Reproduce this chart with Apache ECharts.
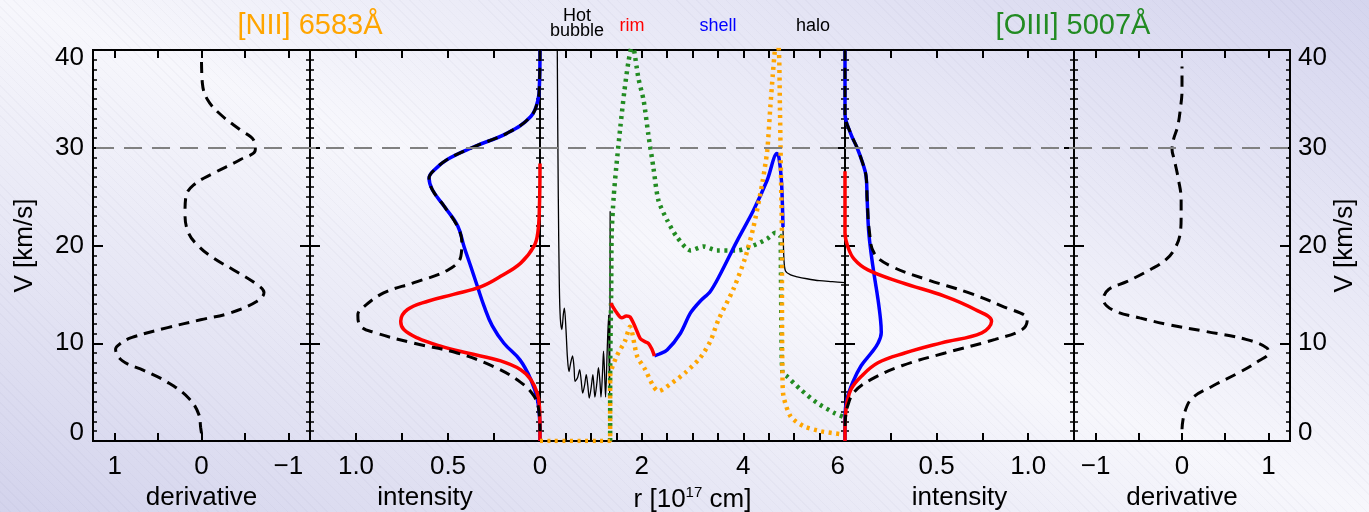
<!DOCTYPE html>
<html><head><meta charset="utf-8">
<script src="https://cdn.jsdelivr.net/npm/echarts@6/dist/echarts.min.js"></script>
<style>
html,body{margin:0;padding:0;}
#c{width:1369px;height:512px;
background:
 repeating-linear-gradient(45deg, rgba(110,110,150,0.045) 0px, rgba(110,110,150,0.045) 1px, transparent 1px, transparent 7px),
 linear-gradient(to top right, #d3d3ec 0%, #f7f7fc 50%, #d5d5ee 100%);}
</style></head><body><div id="c"></div>
<script>
// ---------- DATA ----------
// velocity axis (km/s)
const vTicks = [0, 10, 20, 30, 40];
const vRef = 30;
// tick marks / labels
const derivTicks = [-1, -0.5, 0, 0.5, 1];
const derivLabels = [-1, 0, 1];
const intensTicks = [0, 0.25, 0.5, 0.75, 1.0];
const intensLabels = [0.5, 1.0];
const rTicks = [0, 0.5, 1, 1.5, 2, 2.5, 3, 3.5, 4, 4.5, 5, 5.5, 6];
const rLabels = [0, 2, 4, 6];

// [NII] derivative
const niiDerivV   = [0.8, 1.4, 2.7, 4.4, 6.0, 7.2, 8.2, 9.4, 10.0, 10.6, 11.6, 12.4, 13.1, 14.3, 15.2, 16.0, 17.5, 18.7, 19.9, 21.3, 23.3, 25.0, 26.2, 27.4, 28.8, 29.8, 30.8, 31.8, 33.4, 34.9, 36.6, 39.0];
const niiDerivVal = [0, 0.01, 0.03, 0.15, 0.39, 0.66, 0.91, 0.99, 0.93, 0.80, 0.39, 0.01, -0.33, -0.64, -0.72, -0.64, -0.37, -0.14, 0.03, 0.15, 0.19, 0.18, 0.09, -0.14, -0.45, -0.62, -0.60, -0.45, -0.22, -0.07, -0.01, 0];

// [NII] intensity: rim (red), shell (blue), total (black dashed)
const niiRimV   = [28.4, 24.0, 21.3, 19.9, 18.2, 16.85, 15.8, 15.0, 14.3, 13.45, 12.26, 11.4, 10.55, 9.7, 9.0, 8.2, 7.3, 6.3, 4.9, 3.5, 1.0, 0];
const niiRimVal = [0, 0.003, 0.012, 0.033, 0.105, 0.214, 0.32, 0.47, 0.61, 0.72, 0.757, 0.74, 0.667, 0.54, 0.395, 0.214, 0.105, 0.05, 0.015, 0.003, 0, 0];
const niiShellV   = [40, 36.5, 34.9, 33.2, 31.5, 30.1, 28.8, 27.7, 26.9, 25.7, 24.0, 22.0, 19.9, 17.9, 15.8, 13.8, 11.8, 10.0, 8.3, 6.3, 4.3, 2.2, 0];
const niiShellVal = [0, 0.003, 0.011, 0.05, 0.178, 0.359, 0.504, 0.576, 0.603, 0.585, 0.52, 0.447, 0.413, 0.377, 0.34, 0.304, 0.26, 0.196, 0.109, 0.05, 0.015, 0.002, 0];
const niiTotalV   = [40, 36.5, 34.9, 33.2, 31.5, 30.1, 28.8, 27.7, 26.9, 25.7, 24.0, 22.0, 20.4, 18.9, 17.5, 16.2, 15.15, 13.6, 12.9, 11.75, 11.1, 10.0, 9.0, 7.6, 6.0, 4.6, 3.2, 1.0];
const niiTotalVal = [0, 0.003, 0.011, 0.05, 0.178, 0.359, 0.504, 0.576, 0.603, 0.585, 0.52, 0.45, 0.425, 0.43, 0.50, 0.685, 0.85, 0.966, 0.99, 0.975, 0.90, 0.685, 0.45, 0.25, 0.105, 0.033, 0.007, 0];

// [OIII] intensity
const oiiiRimV   = [27.6, 21.3, 19.9, 18.6, 17.5, 16.2, 14.8, 13.45, 12.26, 11.07, 10.04, 9.0, 8.0, 6.6, 5.3, 3.9, 2.55, 0.85, 0];
const oiiiRimVal = [0, 0, 0.015, 0.05, 0.125, 0.31, 0.546, 0.71, 0.80, 0.747, 0.527, 0.326, 0.18, 0.088, 0.033, 0.011, 0.002, 0, 0];
const oiiiShellV   = [40, 33.5, 31.5, 30.0, 28.4, 27.1, 24.7, 21.3, 17.9, 14.5, 12.4, 11.1, 10.0, 9.0, 7.7, 6.0, 4.3, 2.55, 0];
const oiiiShellVal = [0, 0, 0.03, 0.066, 0.097, 0.115, 0.121, 0.13, 0.152, 0.18, 0.194, 0.198, 0.18, 0.143, 0.088, 0.042, 0.011, 0, 0];
const oiiiTotalV   = [40, 33.5, 31.5, 30.0, 28.4, 27.1, 24.7, 21.3, 19.2, 17.9, 16.5, 15.2, 13.8, 12.4, 11.4, 10.4, 9.0, 7.7, 6.3, 5.0, 3.6, 2.2, 1.0];
const oiiiTotalVal = [0, 0, 0.03, 0.066, 0.097, 0.115, 0.121, 0.134, 0.16, 0.25, 0.45, 0.67, 0.857, 0.995, 0.967, 0.82, 0.546, 0.31, 0.143, 0.05, 0.015, 0.002, 0];

// [OIII] derivative
const oiiiDerivV   = [1.2, 2.9, 4.4, 5.6, 7.0, 8.2, 9.0, 9.5, 10.4, 11.2, 11.9, 12.6, 13.4, 14.5, 15.5, 16.3, 17.5, 18.6, 19.9, 21.3, 23.0, 24.7, 26.7, 28.8, 29.8, 30.8, 32.2, 33.9, 35.9, 38.3];
const oiiiDerivVal = [0, 0.03, 0.12, 0.35, 0.66, 0.89, 1.0, 0.985, 0.74, 0.28, -0.15, -0.49, -0.80, -0.91, -0.85, -0.64, -0.375, -0.18, -0.07, -0.02, -0.01, -0.01, -0.04, -0.09, -0.115, -0.10, -0.05, -0.02, 0, 0];

// radial profiles (r in 1e17 cm, V in km/s)
const bubbleR = [0.335, 0.34, 0.36, 0.38, 0.40, 0.43, 0.46, 0.48, 0.51, 0.54, 0.57, 0.60, 0.64, 0.67, 0.69, 0.74, 0.78, 0.81, 0.84, 0.88, 0.91, 0.94, 0.97, 1.01, 1.04, 1.06, 1.08, 1.12, 1.15, 1.18, 1.20, 1.23, 1.25, 1.27, 1.29, 1.32, 1.35, 1.36, 1.37, 1.38];
const bubbleV = [60, 40, 25, 16, 12.5, 11.4, 13.0, 13.6, 11.5, 8.5, 7.1, 7.9, 8.7, 7.5, 6.1, 6.5, 7.3, 6.2, 4.9, 5.8, 6.8, 5.7, 4.4, 5.6, 6.8, 5.7, 4.5, 6.0, 7.5, 6.0, 4.5, 7.0, 9.2, 7.0, 4.5, 9.0, 12.9, 8.0, 4.5, 23.5];
const rimR = [1.39, 1.50, 1.61, 1.70, 1.77, 1.87, 1.97, 2.05, 2.13, 2.20, 2.25];
const rimV = [14.1, 13.2, 12.6, 12.8, 12.7, 11.7, 10.5, 10.2, 10.0, 9.4, 8.7];
const shellR = [2.25, 2.35, 2.50, 2.76, 2.96, 3.15, 3.35, 3.53, 3.88, 4.20, 4.47, 4.66, 4.70, 4.75, 4.78];
const shellV = [8.7, 8.9, 9.3, 11.0, 13.1, 14.3, 15.3, 16.9, 20.5, 23.6, 26.7, 29.4, 29.0, 26.6, 21.9];
const haloR = [4.78, 4.80, 4.83, 4.93, 5.06, 5.25, 5.50, 5.75, 6.0];
const haloV = [21.9, 18.5, 17.4, 17.0, 16.8, 16.6, 16.4, 16.3, 16.2];
const oiiiEmR = [1.38, 1.38, 1.40, 1.41, 1.45, 1.50, 1.58, 1.66, 1.74, 1.82, 1.90, 1.94, 2.04, 2.13, 2.23, 2.33, 2.50, 2.69, 2.96, 3.22, 3.48, 3.88, 4.20, 4.47, 4.63, 4.73, 4.74, 4.75, 4.77, 4.86, 5.12, 5.45, 5.78, 6.0];
const oiiiEmV = [0, 6.6, 15, 21.2, 25, 28.0, 32.1, 35.8, 38.8, 40.6, 38.3, 37.0, 34.8, 31.4, 28.0, 24.6, 22.6, 20.9, 19.5, 19.9, 19.5, 19.5, 20.0, 20.7, 21.3, 20.9, 17.2, 11, 7.0, 6.6, 5.3, 3.9, 2.9, 2.4];
const niiEmR = [0, 1.38, 1.38, 1.51, 1.67, 1.77, 1.91, 2.07, 2.23, 2.33, 2.56, 2.86, 3.15, 3.35, 3.51, 3.81, 4.04, 4.20, 4.37, 4.47, 4.53, 4.58, 4.62, 4.66, 4.70, 4.72, 4.74, 4.76, 4.76, 4.77, 4.79, 4.93, 5.19, 5.52, 5.91, 6.0];
const niiEmV = [0, 0, 6.6, 8.7, 10.2, 11.7, 8.7, 7.3, 5.6, 5.1, 5.8, 7.0, 8.5, 10.2, 12.4, 15.6, 18.8, 21.9, 26.3, 29.7, 34.1, 37.5, 39.9, 41, 39.9, 34.1, 27.3, 20.5, 15.4, 6.6, 4.6, 2.5, 1.5, 1.0, 0.7, 0.6];

// ---------- CHART ----------
const FONT = 'Liberation Sans, Arial, Helvetica, sans-serif';
const pairs = (xs, ys) => xs.map((x, i) => [x, ys[i]]);
const minus = v => (v < 0 ? '\u2212' + Math.abs(v) : String(v));
const vFmt = v => (v === vTicks[0] ? '{lo|' + v + '}' : v === vTicks[vTicks.length - 1] ? '{hi|' + v + '}' : String(v));

const TOP = 50, BOTTOM = 71;
const panels = [
  {left: 93, width: 217, min: -1.25, max: 1.25, inverse: true, ticks: derivTicks, labels: derivLabels, fmt: minus, name: 'derivative'},
  {left: 310, width: 230, min: 0, max: 1.25, inverse: true, ticks: intensTicks, labels: intensLabels, fmt: v => v.toFixed(1), name: 'intensity'},
  {left: 540, width: 305, min: 0, max: 6, inverse: false, ticks: rTicks, labels: rLabels, fmt: v => String(v), name: 'r [10{sup|17} cm]'},
  {left: 845, width: 229, min: 0, max: 1.25, inverse: false, ticks: intensTicks, labels: intensLabels, fmt: v => v.toFixed(1), name: 'intensity'},
  {left: 1074, width: 216, min: -1.25, max: 1.25, inverse: false, ticks: derivTicks, labels: derivLabels, fmt: minus, name: 'derivative'}
];

const grid = [], xAxis = [], yAxis = [];
const tickStyle = {color: '#000', width: 2};
panels.forEach((p, i) => {
  grid.push({left: p.left, width: p.width, top: TOP, bottom: BOTTOM, show: true, borderColor: '#000', borderWidth: 2,
    backgroundColor: 'transparent', containLabel: false, outerBoundsMode: 'none'});
  const xBase = {type: 'value', gridIndex: i, min: p.min, max: p.max, inverse: p.inverse,
    axisLine: {show: false, onZero: false}, splitLine: {show: false},
    axisTick: {inside: true, length: 8, lineStyle: tickStyle, customValues: p.ticks}};
  xAxis.push(Object.assign({}, xBase, {position: 'bottom',
    axisLabel: {customValues: p.labels, formatter: p.fmt, fontSize: 26, color: '#000', margin: 13, fontFamily: FONT,
      alignMaxLabel: i === 2 ? 'right' : null},
    name: p.name, nameLocation: 'middle', nameGap: 42,
    nameTextStyle: {fontSize: 26, color: '#000', fontFamily: FONT,
      rich: {sup: {fontSize: 15, verticalAlign: 'top', padding: [0, 0, 14, 0], fontFamily: FONT, color: '#000'}}}}));
  xAxis.push(Object.assign({}, xBase, {position: 'top', axisLabel: {show: false}}));
  const yBase = {type: 'value', gridIndex: i, min: 0, max: 40, interval: 10,
    axisLine: {show: false, onZero: false}, splitLine: {show: false},
    axisTick: {inside: true, length: 10, lineStyle: tickStyle},
    minorTick: {show: true, splitNumber: 10, length: 4, lineStyle: {color: '#000', width: 1.5}}};
  const labelOn = {fontSize: 26, color: '#000', fontFamily: FONT, margin: 9, formatter: vFmt,
    rich: {lo: {fontSize: 26, fontFamily: FONT, color: '#000', padding: [0, 0, 16, 0]},
           hi: {fontSize: 26, fontFamily: FONT, color: '#000', padding: [16, 0, 0, 0]}}};
  yAxis.push(Object.assign({}, yBase, {position: 'left',
    axisLabel: i === 0 ? labelOn : {show: false},
    name: i === 0 ? 'V [km/s]' : '', nameLocation: 'middle', nameGap: 55, nameRotate: 90,
    nameTextStyle: {fontSize: 26, color: '#000', fontFamily: FONT}}));
  yAxis.push(Object.assign({}, yBase, {position: 'right',
    axisLabel: i === 4 ? Object.assign({}, labelOn, {margin: 8}) : {show: false},
    name: i === 4 ? 'V [km/s]' : '', nameLocation: 'middle', nameGap: 42, nameRotate: 90,
    nameTextStyle: {fontSize: 26, color: '#000', fontFamily: FONT}}));
});

function ln(gi, data, color, width, type, extra) {
  return Object.assign({type: 'line', xAxisIndex: gi * 2, yAxisIndex: gi * 2, data: data,
    showSymbol: false, symbol: 'none', smooth: 0.4, clip: true, silent: true,
    lineStyle: {color: color, width: width, type: type || 'solid'}}, extra || {});
}
const refLine = {symbol: 'none', silent: true, label: {show: false},
  lineStyle: {color: '#808080', width: 2, type: [18, 10]}, data: [{yAxis: vRef}]};
const DASH = [11, 7];
const DOT = [3, 4.5];

const series = [
  ln(0, pairs(niiDerivVal, niiDerivV), '#000', 3, DASH, {markLine: refLine}),
  ln(1, pairs(niiShellVal, niiShellV), '#0000ff', 3.5, 'solid', {markLine: refLine}),
  ln(1, pairs(niiRimVal, niiRimV), '#ff0000', 3.5),
  ln(1, pairs(niiTotalVal, niiTotalV), '#000', 3, DASH),
  ln(2, pairs(bubbleR, bubbleV), '#000', 1.3, 'solid', {markLine: refLine, smooth: 0.3}),
  ln(2, pairs(haloR, haloV), '#000', 1.3, 'solid', {smooth: 0.3}),
  ln(2, pairs(oiiiEmR, oiiiEmV), '#228b22', 4.5, DOT, {smooth: 0.25}),
  ln(2, pairs(shellR, shellV), '#0000ff', 3.5, 'solid', {smooth: 0.3}),
  ln(2, pairs(niiEmR, niiEmV), '#ffa500', 4.5, DOT, {smooth: 0.25}),
  ln(2, pairs(rimR, rimV), '#ff0000', 3.5, 'solid', {smooth: 0.3}),
  ln(3, pairs(oiiiShellVal, oiiiShellV), '#0000ff', 3.5, 'solid', {markLine: refLine}),
  ln(3, pairs(oiiiRimVal, oiiiRimV), '#ff0000', 3.5),
  ln(3, pairs(oiiiTotalVal, oiiiTotalV), '#000', 3, DASH),
  ln(4, pairs(oiiiDerivVal, oiiiDerivV), '#000', 3, DASH, {markLine: refLine})
];

const txt = (x, y, s, color, size, extra) => ({type: 'text', x: x, y: y, silent: true,
  style: Object.assign({text: s, fill: color, font: size + 'px ' + FONT, textAlign: 'center', textVerticalAlign: 'middle'}, extra || {})});
const graphic = [
  txt(310, 26, '[NII] 6583Å', '#ffa500', 29),
  txt(1073, 26, '[OIII] 5007Å', '#228b22', 29),
  txt(577, 24, 'Hot\nbubble', '#000', 18, {lineHeight: 15}),
  txt(632, 26, 'rim', '#ff0000', 18),
  txt(718, 26, 'shell', '#0000ff', 18),
  txt(813, 26, 'halo', '#000', 18)
];

const chart = echarts.init(document.getElementById('c'), null, {renderer: 'canvas'});
chart.setOption({animation: false, backgroundColor: 'transparent', grid, xAxis, yAxis, series, graphic});
</script></body></html>
